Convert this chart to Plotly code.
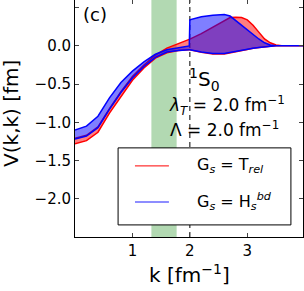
import plotly.graph_objects as go

# ---- data ----
k = [0.0, 0.2, 0.4, 0.6, 0.8, 1.0, 1.2, 1.4, 1.6, 1.8, 1.99,
     2.0, 2.2, 2.4, 2.6, 2.7, 2.8, 2.9, 3.0, 3.1, 3.2, 3.3, 3.4, 3.5, 3.6, 3.8, 4.0]

blue_top = [-1.10, -1.05, -0.92, -0.68, -0.48, -0.33, -0.21, -0.11, -0.05, -0.02, 0.00,
            0.34, 0.38, 0.40, 0.41, 0.39, 0.33, 0.26, 0.20, 0.15, 0.09, 0.04, 0.012, 0.002, 0.0, 0.0, 0.0]
blue_bot = [-1.22, -1.18, -1.07, -0.83, -0.61, -0.42, -0.27, -0.15, -0.08, -0.06, -0.05,
            -0.05, -0.08, -0.10, -0.10, -0.09, -0.075, -0.06, -0.045, -0.03, -0.02, -0.012, -0.005, 0.0, 0.0, 0.0, 0.0]
red_top = [-1.21, -1.17, -1.06, -0.82, -0.60, -0.40, -0.25, -0.12, -0.03, 0.03, 0.085,
           0.088, 0.16, 0.24, 0.32, 0.37, 0.375, 0.37, 0.34, 0.27, 0.18, 0.09, 0.04, 0.012, 0.003, 0.0, 0.0]
red_bot = [-1.28, -1.24, -1.13, -0.88, -0.66, -0.45, -0.29, -0.16, -0.09, -0.06, -0.05,
           -0.05, -0.085, -0.105, -0.105, -0.095, -0.08, -0.062, -0.047, -0.032, -0.021, -0.012, -0.005, 0.0, 0.0, 0.0, 0.0]

band = [1.33, 1.77]      # shaded k region
cutoff = 2.0             # dashed line
x_ticks = [1, 2, 3]
y_ticks = [0.5, 0.0, -0.5, -1.0, -1.5, -2.0]
labels = ["G<sub><i>s</i></sub> = T<sub><i>rel</i></sub>",
          "G<sub><i>s</i></sub> = H<sub><i>s</i></sub><sup><i>bd</i></sup>"]

FONT = "DejaVu Sans"

fig = go.Figure()

def poly(top, bot):
    return k + k[::-1], top + bot[::-1]

xr, yr = poly(red_top, red_bot)
fig.add_trace(go.Scatter(x=xr, y=yr, mode="lines", fill="toself",
                         fillcolor="rgba(255,0,0,0.5)",
                         line=dict(color="rgb(255,0,0)", width=1.5),
                         showlegend=False, hoverinfo="skip"))
xb, yb = poly(blue_top, blue_bot)
fig.add_trace(go.Scatter(x=xb, y=yb, mode="lines", fill="toself",
                         fillcolor="rgba(0,0,255,0.5)",
                         line=dict(color="rgb(0,0,255)", width=1.5),
                         showlegend=False, hoverinfo="skip"))

# shaded band and cutoff line
fig.add_shape(type="rect", xref="x", yref="paper", x0=band[0], x1=band[1], y0=0, y1=1,
              fillcolor="rgba(0,128,0,0.3)", line=dict(width=0), layer="below")
fig.add_shape(type="line", xref="x", yref="paper", x0=cutoff, x1=cutoff, y0=0, y1=1,
              line=dict(color="black", width=1, dash="5px,4px"), layer="below")

# legend (manual, matplotlib style)
fig.add_shape(type="rect", xref="paper", yref="paper", x0=0.189, x1=0.947, y0=0.051, y1=0.376,
              fillcolor="white", line=dict(color="black", width=1), layer="above")
fig.add_shape(type="line", xref="paper", yref="paper", x0=0.263, x1=0.412, y0=0.30, y1=0.30,
              line=dict(color="rgb(255,0,0)", width=1), layer="above")
fig.add_shape(type="line", xref="paper", yref="paper", x0=0.263, x1=0.412, y0=0.148, y1=0.148,
              line=dict(color="rgba(0,0,255,0.6)", width=1.5), layer="above")
for lab, yy in zip(labels, [0.30, 0.148]):
    fig.add_annotation(text=lab, xref="paper", yref="paper", x=0.525, y=yy,
                       xanchor="left", yanchor="middle", showarrow=False,
                       font=dict(family=FONT, size=16, color="black"))

# text annotations
fig.add_annotation(text="(c)", xref="paper", yref="paper", x=0.025, y=0.937,
                   xanchor="left", yanchor="middle", showarrow=False,
                   font=dict(family=FONT, size=18, color="black"))
fig.add_annotation(text="<sup>1</sup>S<sub>0</sub>", xref="paper", yref="paper", x=0.49, y=0.665,
                   xanchor="left", yanchor="middle", showarrow=False,
                   font=dict(family=FONT, size=20, color="black"))
fig.add_annotation(text="<i>λ</i><sub><i>T</i></sub> = 2.0 fm<sup>−1</sup>", xref="paper", yref="paper",
                   x=0.405, y=0.555, xanchor="left", yanchor="middle", showarrow=False,
                   font=dict(family=FONT, size=17, color="black"))
fig.add_annotation(text="Λ = 2.0 fm<sup>−1</sup>", xref="paper", yref="paper",
                   x=0.41, y=0.455, xanchor="left", yanchor="middle", showarrow=False,
                   font=dict(family=FONT, size=17, color="black"))

# axis titles as annotations (fixed positions, no auto margins)
fig.add_annotation(text="k [fm<sup>−1</sup>]", xref="paper", yref="paper", x=0.5, y=-0.155,
                   xanchor="center", yanchor="middle", showarrow=False,
                   font=dict(family=FONT, size=20, color="black"))
fig.add_annotation(text="V(k,k) [fm]", xref="paper", yref="paper", x=-0.28, y=0.52,
                   xanchor="center", yanchor="middle", showarrow=False, textangle=-90,
                   font=dict(family=FONT, size=20, color="black"))

fig.update_layout(
    width=304, height=291,
    margin=dict(l=75, r=1, t=0, b=54, autoexpand=False),
    plot_bgcolor="white", paper_bgcolor="white",
    font=dict(family=FONT, color="black"),
    showlegend=False,
    hovermode=False,
)
fig.update_xaxes(range=[0, 3.97], tickvals=x_ticks, ticks="inside", ticklen=4,
                 tickcolor="#444", showline=True, linecolor="black", linewidth=1,
                 mirror="ticks", showgrid=False, zeroline=False, automargin=False,
                 tickfont=dict(family=FONT, size=15))
fig.update_yaxes(range=[-2.5, 0.6], tickvals=y_ticks, tickformat=".1f", ticks="inside", ticklen=4,
                 tickcolor="#444", showline=True, linecolor="black", linewidth=1,
                 mirror="ticks", showgrid=False, zeroline=False, automargin=False,
                 tickfont=dict(family=FONT, size=15))

post = ("document.body.style.margin='0px';"
        "var gd=document.getElementById('{plot_id}');"
        "Plotly.newPlot(gd, gd.data, gd.layout, {displayModeBar:false, staticPlot:true});")

fig.write_html("out.html", config={"displayModeBar": False, "staticPlot": True},
               post_script=post)
